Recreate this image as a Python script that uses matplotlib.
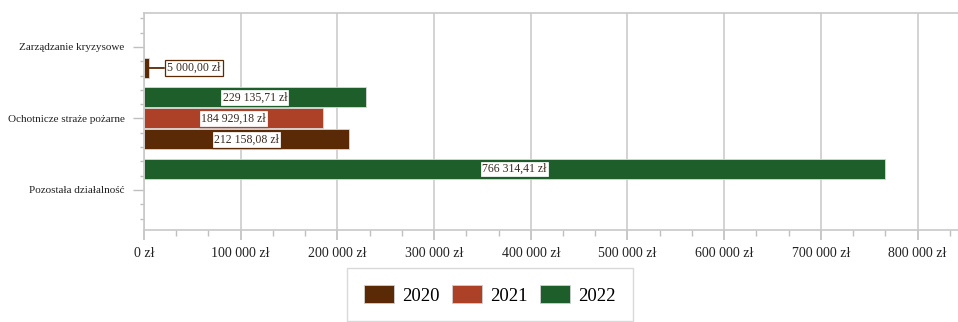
import numpy as np
import matplotlib.pyplot as plt
from matplotlib.ticker import FuncFormatter, MultipleLocator

categories = ['Zarządzanie kryzysowe', 'Ochotnicze straże pożarne', 'Pozostała działalność']
years = ['2020', '2021', '2022']
val_2020 = [5000.00, 212158.08, 0]
val_2021 = [0, 184929.18, 0]
val_2022 = [0, 229135.71, 766314.41]

colors = ['#5a2a06', '#ad4127', '#1e5e2a']
plt.rcParams['font.family'] = ['Liberation Serif', 'DejaVu Serif']


def pln(v):
    s = f"{v:,.2f}".replace(',', ' ').replace('.', ',')
    return s + ' zł'


fig = plt.figure(figsize=(9.58, 3.22), dpi=100)
ax = fig.add_axes([144/958, 1 - 230/322, 1 - 144/958, 217/322])

y = np.arange(len(categories))
h = 0.28
step = 0.294
series = [val_2020, val_2021, val_2022]
offsets = [step, 0, -step]

for vals, off, col, yr in zip(series, offsets, colors, years):
    for i, v in enumerate(vals):
        if v <= 0:
            continue
        yy = y[i] + off
        ax.barh(yy, v, height=h, color=col, edgecolor='#d8d8d8', linewidth=0.6, zorder=3)
        box = dict(boxstyle='square,pad=0.2', fc='white', ec=col, lw=0.9)
        if v < 20000:
            # small bar: label pulled out with a leader line
            ax.annotate(pln(v), xy=(v, yy), xytext=(13, 0), textcoords='offset points',
                        ha='left', va='center', fontsize=8.5, color='#3b2a20', bbox=box,
                        arrowprops=dict(arrowstyle='-', color=col, lw=1.3,
                                        shrinkA=0, shrinkB=0), zorder=5)
        else:
            ax.text(v / 2, yy, pln(v), ha='center', va='center', fontsize=8.5,
                    color='#3b2a20', bbox=box, zorder=5)

ax.set_xlim(0, 841800)
ax.set_ylim(2.56, -0.475)
ax.set_yticks(y)
ax.set_yticklabels(categories, fontsize=8, color='#222222')
ax.yaxis.set_minor_locator(MultipleLocator(0.2))
ax.xaxis.set_major_locator(MultipleLocator(100000))
ax.xaxis.set_minor_locator(MultipleLocator(100000 / 3))
ax.xaxis.set_major_formatter(FuncFormatter(lambda v, p: f"{v:,.0f}".replace(',', ' ') + ' zł'))
ax.tick_params(axis='x', labelsize=10, colors='#bfbfbf', labelcolor='#222222', length=7, width=1.2, pad=5)
ax.tick_params(axis='x', which='minor', colors='#bfbfbf', length=4, width=1)
ax.tick_params(axis='y', colors='#bfbfbf', labelcolor='#222222', length=8, width=1, pad=6)
ax.tick_params(axis='y', which='minor', colors='#bfbfbf', length=3, width=1)

ax.grid(True, axis='x', which='major', color='#d0d0d0', lw=1.3, zorder=0)
ax.set_axisbelow(True)
for s in ['left', 'bottom', 'top']:
    ax.spines[s].set_color('#c8c8c8')
    ax.spines[s].set_linewidth(1.2)
ax.spines['right'].set_visible(False)

handles = [plt.Rectangle((0, 0), 1, 1, fc=c, ec='#d0d0d0', lw=0.6) for c in colors]
fig.legend(handles, years, loc='upper left', bbox_to_anchor=(347/958, 1 - 268/322),
           ncol=3, fontsize=13.5, frameon=True, fancybox=False, edgecolor='#d0d0d0',
           handlelength=1.6, handleheight=1.15, handletextpad=0.45, columnspacing=0.65,
           borderpad=0.9, borderaxespad=0)

plt.savefig('out.png', dpi=100)
